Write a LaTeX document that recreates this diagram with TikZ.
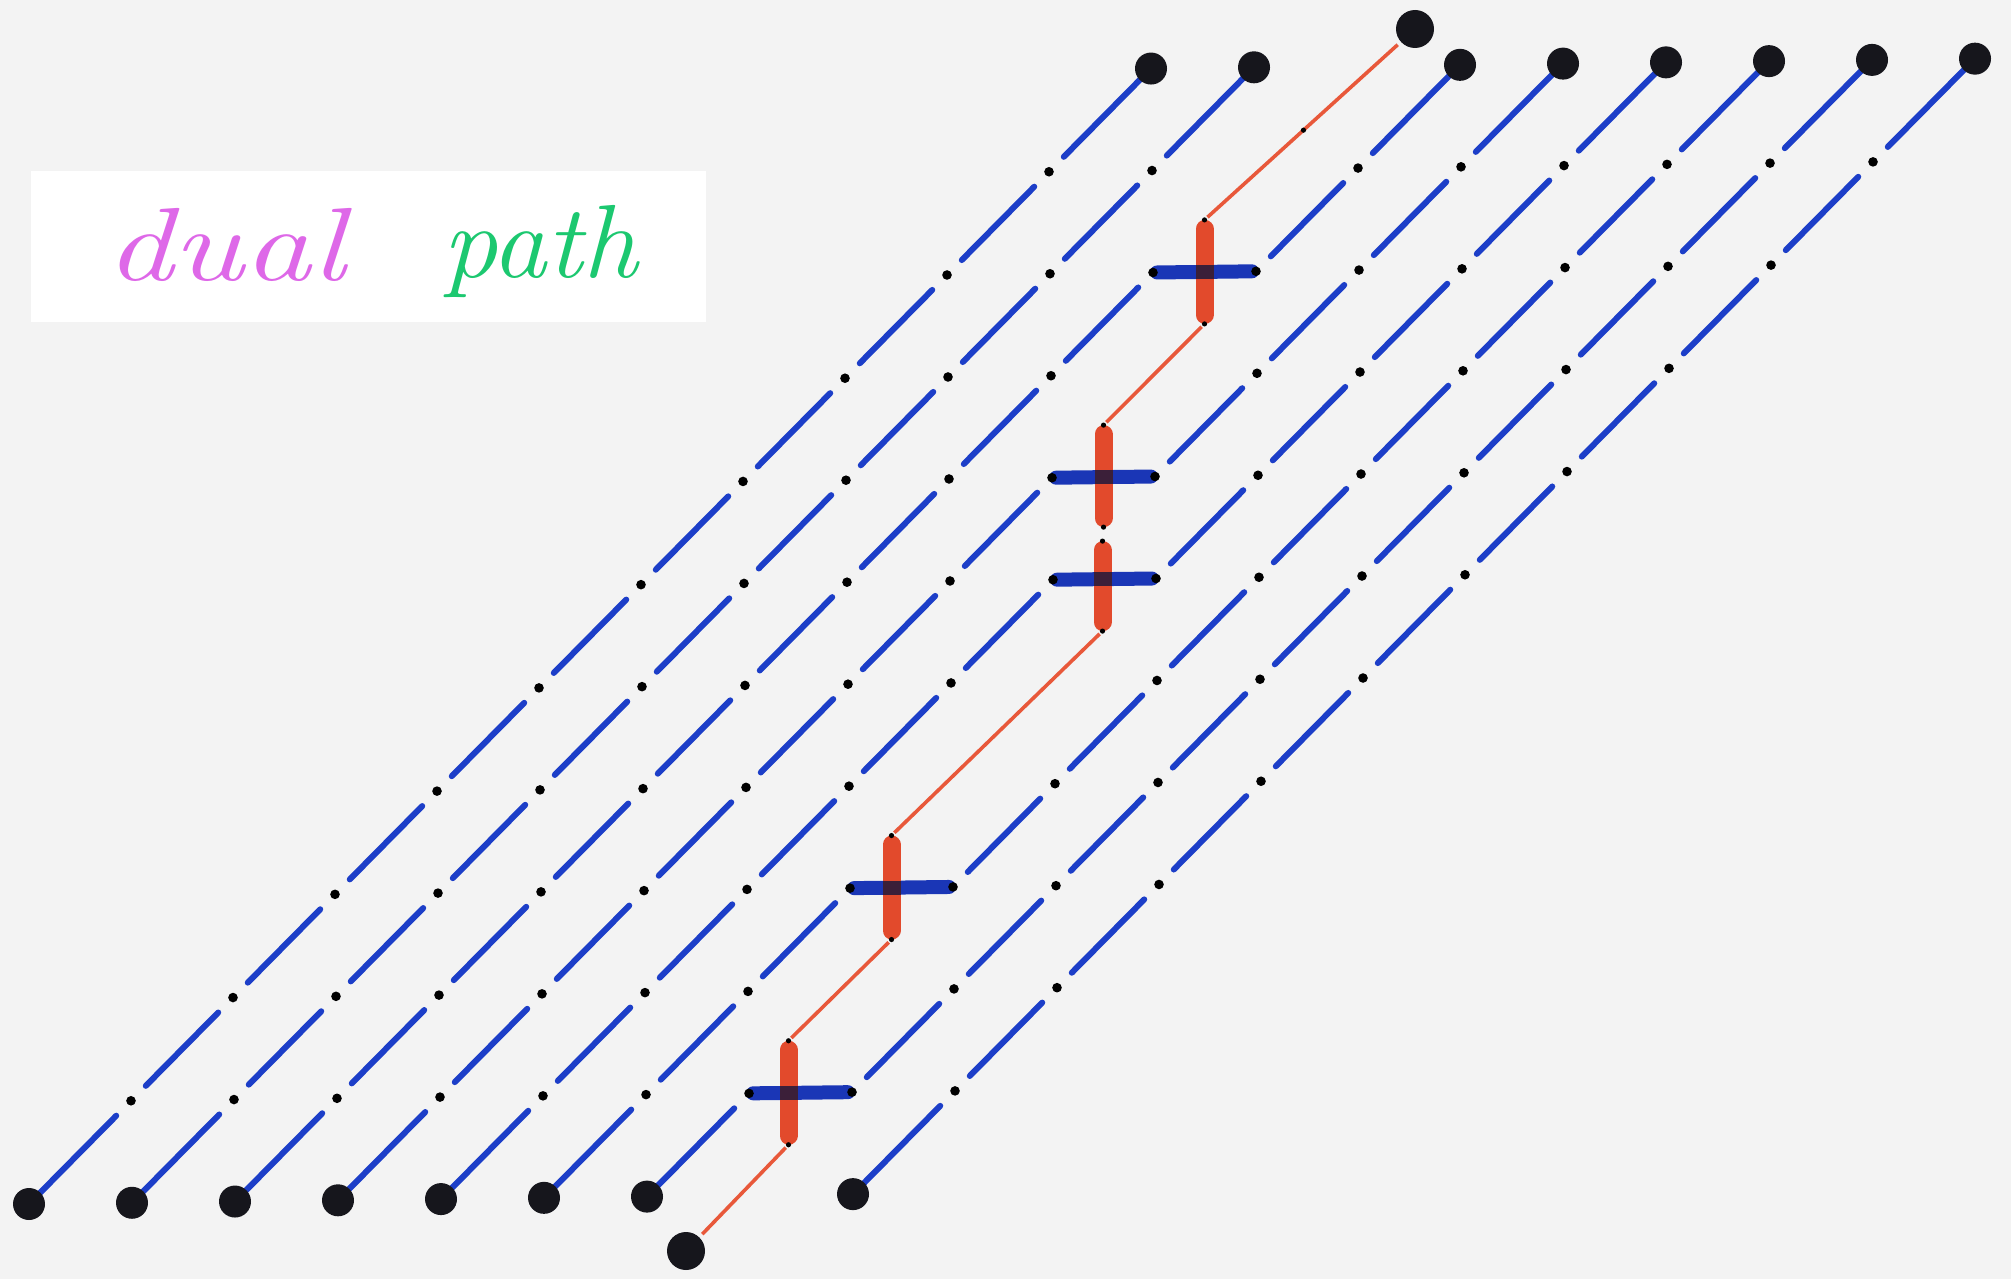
\documentclass[tikz,border=0pt]{standalone}
\usepackage{graphicx}
\usetikzlibrary{calc}
\definecolor{bgc}{RGB}{243,243,243}
\definecolor{lineblue}{RGB}{28,62,200}
\definecolor{barblue}{RGB}{26,54,182}
\definecolor{barred}{RGB}{226,74,44}
\definecolor{thinred}{RGB}{232,88,58}
\definecolor{dotblack}{RGB}{22,22,28}
\definecolor{crossdark}{RGB}{30,24,60}
\definecolor{dualpink}{RGB}{222,104,232}
\definecolor{pathgreen}{RGB}{28,200,112}
\begin{document}
\begin{tikzpicture}[x=0.5pt,y=-0.5pt,
  bluedash/.style={draw=lineblue,line width=3pt,line cap=round},
  hbar/.style={draw=barblue,line width=7pt,line cap=round,shorten <=2pt,shorten >=2pt},
  rbar/.style={draw=barred,line width=9pt,line cap=round,shorten <=4.5pt,shorten >=4.5pt},
  redline/.style={draw=thinred,line width=1.8pt,shorten <=2pt,shorten >=2pt},
  bigdot/.style={circle,fill=dotblack,inner sep=0pt,minimum size=16pt},
  smalldot/.style={circle,fill=black,inner sep=0pt,minimum size=4.8pt},
  tinydot/.style={circle,fill=black,inner sep=0pt,minimum size=2.6pt},
  labeltext/.style={anchor=base,font=\fontsize{52}{60}\selectfont\itshape},
]
\fill[bgc] (0,0) rectangle (2011,1279);
\useasboundingbox (0,0) rectangle (2011,1279);

% label box
\fill[white] (31,171) rectangle (706,322);
\node[labeltext,text=dualpink] (tdual) at (225,280) {\scalebox{1.3}[1]{dual}};
\node[labeltext,text=pathgreen] (tpath) at (540,277) {\scalebox{1.06}[1]{path}};

% lattice vertices
\foreach \c in {0,...,8}{
  \foreach \r in {0,...,11}{
    \pgfmathsetmacro\vx{29+103*\c+102*\r}
    \pgfmathsetmacro\vy{1204-0.012*(\vx-29)-102*\r}
    \coordinate (v-\c-\r) at (\vx,\vy);
  }
}

% blue dashed paths (diagonal edges)
\foreach \c/\ra/\rb in {0/0/11,1/0/11,2/0/9,3/0/7,3/9/11,4/0/6,4/7/11,5/0/3,5/6/11,6/0/1,6/3/11,7/1/11,8/0/11}{
  \pgfmathtruncatemacro\rl{\rb-1}
  \foreach \r in {\ra,...,\rl}{
    \pgfmathtruncatemacro\rn{\r+1}
    \pgfmathsetmacro\sa{\r==0 ? 0 : 10.5}
    \pgfmathsetmacro\sb{\rn==11 ? 0 : 10.5}
    \draw[bluedash,shorten <=\sa pt,shorten >=\sb pt] (v-\c-\r) -- (v-\c-\rn);
  }
}

% end dots of the paths
\foreach \c in {0,1,2,3,4,5,6,8}{ \node[bigdot] (b-\c) at (v-\c-0) {}; }
\foreach \c in {0,1,3,4,5,6,7,8}{ \node[bigdot] (t-\c) at (v-\c-11) {}; }

% crossing points of the dual path (x offset, top and bottom half-lengths)
\foreach \r/\c/\dx/\ua/\ub in {1/6/-12/52/52,3/5/-10/52/52,6/4/-2/38/52,7/3/0/52/50,9/2/0/52/52}{
  \pgfmathtruncatemacro\cn{\c+1}
  \coordinate (m-\r) at ($(v-\c-\r)!0.5!(v-\cn-\r)+(\dx,0)$);
  \coordinate (rb-\r) at ($(m-\r)+(0,\ub)$);
  \coordinate (rt-\r) at ($(m-\r)+(0,-\ua)$);
}

% dual path end dots
\node[bigdot,minimum size=19pt] (dstart) at (686,1251) {};
\node[bigdot,minimum size=19pt] (dend) at (1415,29) {};

% thin red dual edges
\draw[redline] (dstart) -- (rb-1);
\draw[redline] (rt-1) -- (rb-3);
\draw[redline] (rt-3) -- (rb-6);
\draw[redline] (rt-7) -- (rb-9);
\draw[redline] (rt-9) -- (dend);
\node[tinydot] (rmark) at ($(rt-9)!0.47!(dend)$) {};

% crossed horizontal edges and red bars
\foreach \r/\c in {1/6,3/5,6/4,7/3,9/2}{
  \pgfmathtruncatemacro\cn{\c+1}
  \draw[hbar] (v-\c-\r) -- (v-\cn-\r);
}
\foreach \r in {1,3,6,7,9}{
  \draw[rbar] (rb-\r) -- (rt-\r);
  \fill[crossdark,opacity=0.85] ($(m-\r)+(-9,-7)$) rectangle ($(m-\r)+(9,7)$);
  \node[tinydot] (tb-\r) at (rb-\r) {};
  \node[tinydot] (tt-\r) at (rt-\r) {};
}

% small vertex dots
\foreach \c/\ra/\rb in {0/0/11,1/0/11,2/0/9,3/0/7,3/9/11,4/0/6,4/7/11,5/0/3,5/6/11,6/0/1,6/3/11,7/1/11,8/0/11}{
  \foreach \r in {\ra,...,\rb}{
    \ifnum\r>0 \ifnum\r<11
      \node[smalldot] (s-\c-\r) at (v-\c-\r) {};
    \fi\fi
  }
}
\end{tikzpicture}
\end{document}
